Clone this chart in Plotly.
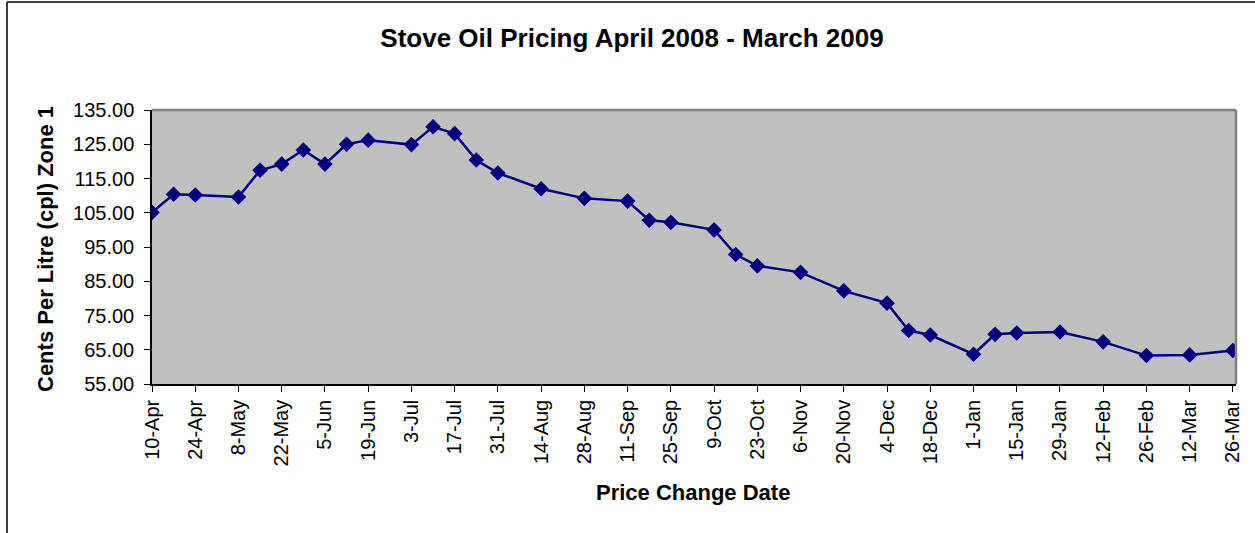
import plotly.graph_objects as go

# ---- data ----
price_dates = ["2008-04-10", "2008-04-17", "2008-04-24", "2008-05-08", "2008-05-15", "2008-05-22",
               "2008-05-29", "2008-06-05", "2008-06-12", "2008-06-19", "2008-07-03", "2008-07-10",
               "2008-07-17", "2008-07-24", "2008-07-31", "2008-08-14", "2008-08-28", "2008-09-11",
               "2008-09-18", "2008-09-25", "2008-10-09", "2008-10-16", "2008-10-23", "2008-11-06",
               "2008-11-20", "2008-12-04", "2008-12-11", "2008-12-18", "2009-01-01", "2009-01-08",
               "2009-01-15", "2009-01-29", "2009-02-12", "2009-02-26", "2009-03-12", "2009-03-26"]
price_cpl = [105.1, 110.4, 110.2, 109.6, 117.4, 119.2,
             123.3, 119.2, 125.0, 126.2, 124.9, 130.1,
             128.1, 120.4, 116.6, 112.0, 109.2, 108.4,
             102.8, 102.2, 100.0, 92.8, 89.5, 87.6,
             82.2, 78.6, 70.6, 69.3, 63.7, 69.5,
             69.9, 70.2, 67.3, 63.3, 63.5, 64.8]

tick_dates = ["2008-04-10", "2008-04-24", "2008-05-08", "2008-05-22", "2008-06-05", "2008-06-19",
              "2008-07-03", "2008-07-17", "2008-07-31", "2008-08-14", "2008-08-28", "2008-09-11",
              "2008-09-25", "2008-10-09", "2008-10-23", "2008-11-06", "2008-11-20", "2008-12-04",
              "2008-12-18", "2009-01-01", "2009-01-15", "2009-01-29", "2009-02-12", "2009-02-26",
              "2009-03-12", "2009-03-26"]
tick_labels = ["10-Apr", "24-Apr", "8-May", "22-May", "5-Jun", "19-Jun", "3-Jul", "17-Jul", "31-Jul",
               "14-Aug", "28-Aug", "11-Sep", "25-Sep", "9-Oct", "23-Oct", "6-Nov", "20-Nov", "4-Dec",
               "18-Dec", "1-Jan", "15-Jan", "29-Jan", "12-Feb", "26-Feb", "12-Mar", "26-Mar"]

y_ticks = [55, 65, 75, 85, 95, 105, 115, 125, 135]

title_text = "Stove Oil Pricing April 2008 - March 2009"
x_title = "Price Change Date"
y_title = "Cents Per Litre (cpl) Zone 1"

# ---- layout geometry ----
W, H = 1255, 533
ML, MR, MT, MB = 152, 19, 110, 149
PW, PH = W - ML - MR, H - MT - MB


def px_x(p):
    return (p - ML) / PW


def px_y(p):
    return (H - MB - p) / PH


FONT = "Liberation Sans, Arial, sans-serif"

fig = go.Figure()
fig.add_trace(go.Scatter(
    x=price_dates, y=price_cpl, mode="lines+markers",
    line=dict(color="#000080", width=2.5),
    marker=dict(symbol="diamond", size=12, color="#000080"),
    showlegend=False,
))

fig.update_layout(
    width=W, height=H,
    margin=dict(l=ML, r=MR, t=MT, b=MB, autoexpand=False),
    paper_bgcolor="white",
    plot_bgcolor="#C0C0C0",
    font=dict(family=FONT, color="black", size=20),
    title=dict(text="<b>" + title_text + "</b>", x=632 / W, xanchor="center",
               y=1 - 38 / H, yanchor="middle", yref="container",
               font=dict(size=26, family=FONT, color="black")),
    xaxis=dict(
        type="date", range=["2008-04-10", "2009-03-27"],
        tickvals=tick_dates, ticktext=tick_labels, tickangle=-90,
        showgrid=False, zeroline=False,
        showline=True, linecolor="black", linewidth=1.5,
        ticks="outside", ticklen=6, tickcolor="black", tickwidth=1,
        tickfont=dict(size=20, family=FONT, color="black"),
    ),
    yaxis=dict(
        range=[55, 135], tickvals=y_ticks, tickformat=".2f",
        showgrid=False, zeroline=False,
        showline=True, linecolor="black", linewidth=1.5,
        ticks="outside", ticklen=6, tickcolor="black", tickwidth=1,
        ticklabelstandoff=6,
        tickfont=dict(size=20, family=FONT, color="black"),
    ),
    annotations=[
        dict(text="<b>" + x_title + "</b>", xref="paper", yref="paper",
             x=px_x(693), y=px_y(492), xanchor="center", yanchor="middle",
             showarrow=False, font=dict(size=22, family=FONT, color="black")),
        dict(text="<b>" + y_title + "</b>", xref="paper", yref="paper",
             x=px_x(45), y=px_y(249), xanchor="center", yanchor="middle", textangle=-90,
             showarrow=False, font=dict(size=22, family=FONT, color="black")),
    ],
    shapes=[
        # grey plot-area border (top and right)
        dict(type="line", xref="paper", yref="paper", x0=0, x1=1, y0=1, y1=1,
             line=dict(color="#808080", width=2.5)),
        dict(type="line", xref="paper", yref="paper", x0=1, x1=1, y0=0, y1=1,
             line=dict(color="#808080", width=2.5)),
        # outer chart frame (left and top)
        dict(type="line", xref="paper", yref="paper", x0=px_x(7), x1=px_x(7),
             y0=px_y(H), y1=px_y(2), line=dict(color="black", width=1.5)),
        dict(type="line", xref="paper", yref="paper", x0=px_x(7), x1=px_x(W),
             y0=px_y(2), y1=px_y(2), line=dict(color="black", width=1.5)),
    ],
)

fig.write_html("out.html", config={"displayModeBar": False},
               post_script="document.body.style.margin='0px';")
